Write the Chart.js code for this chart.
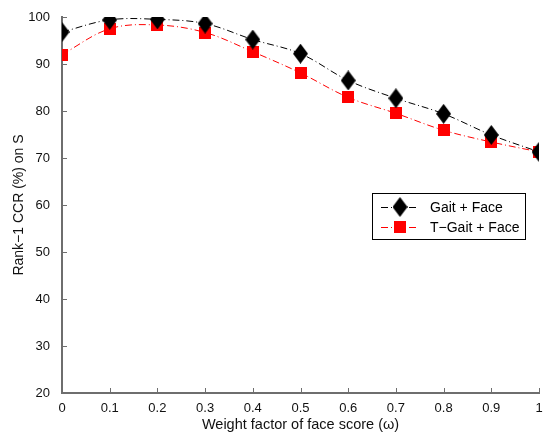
<!DOCTYPE html>
<html>
<head>
<meta charset="utf-8">
<script src="https://cdn.jsdelivr.net/npm/chart.js@4.4.1/dist/chart.umd.min.js"></script>
<style>
  html, body { margin: 0; padding: 0; background: #fff; }
  #wrap { width: 544px; height: 435px; }
</style>
</head>
<body>
<div id="wrap"><canvas id="myChart" width="544" height="435"></canvas></div>
<script>
const weights = [0, 0.1, 0.2, 0.3, 0.4, 0.5, 0.6, 0.7, 0.8, 0.9, 1];
const gaitFace = [96.8, 99.4, 99.5, 98.6, 95.2, 92.2, 86.5, 82.7, 79.4, 74.9, 71.3];
const tGaitFace = [92.0, 97.5, 98.3, 96.7, 92.6, 88.1, 82.9, 79.5, 75.9, 73.4, 71.3];
const seriesNames = ['Gait + Face', 'T\u2212Gait + Face'];
const yTicks = [20, 30, 40, 50, 60, 70, 80, 90, 100];

const FONT = 'Liberation Sans, Arial, Helvetica, sans-serif';

function makeDiamond(w, h, color) {
  const c = document.createElement('canvas');
  c.width = w; c.height = h;
  const g = c.getContext('2d');
  g.fillStyle = color;
  g.beginPath();
  g.moveTo(w / 2, 0);
  g.lineTo(w, h / 2);
  g.lineTo(w / 2, h);
  g.lineTo(0, h / 2);
  g.closePath();
  g.fill();
  return c;
}

function makeSquare(s, color) {
  const c = document.createElement('canvas');
  c.width = s; c.height = s;
  const g = c.getContext('2d');
  g.fillStyle = color;
  g.fillRect(0, 0, s, s);
  return c;
}

const diamond = makeDiamond(15, 20, '#000');
const square = makeSquare(12, '#ff0000');

const toPoints = (ys) => weights.map((x, i) => ({ x, y: ys[i] }));

// inward tick marks, MATLAB-style
const innerTicks = {
  id: 'innerTicks',
  afterDraw(chart) {
    const { ctx, chartArea, scales } = chart;
    ctx.save();
    ctx.strokeStyle = '#6e6e6e';
    ctx.lineWidth = 1;
    ctx.beginPath();
    weights.forEach((w) => {
      const px = Math.round(scales.x.getPixelForValue(w)) + 0.5;
      ctx.moveTo(px, chartArea.bottom);
      ctx.lineTo(px, chartArea.bottom - 5);
    });
    yTicks.forEach((v) => {
      const py = Math.round(scales.y.getPixelForValue(v)) + 0.5;
      ctx.moveTo(chartArea.left, py);
      ctx.lineTo(chartArea.left + 5, py);
    });
    ctx.stroke();
    ctx.restore();
  }
};

// boxed legend like MATLAB
const boxLegend = {
  id: 'boxLegend',
  afterDraw(chart) {
    const { ctx } = chart;
    const bx = 372, by = 193, bw = 153, bh = 46;
    ctx.save();
    ctx.fillStyle = '#fff';
    ctx.fillRect(bx, by, bw, bh);
    ctx.strokeStyle = '#000';
    ctx.lineWidth = 1;
    ctx.strokeRect(bx + 0.5, by + 0.5, bw, bh);

    const rows = [
      { y: 207, color: '#000', img: diamond },
      { y: 227, color: '#ff0000', img: square }
    ];
    rows.forEach((r, i) => {
      ctx.strokeStyle = r.color;
      ctx.setLineDash([7, 3, 1, 3]);
      ctx.beginPath();
      ctx.moveTo(381, r.y + 0.5);
      ctx.lineTo(419, r.y + 0.5);
      ctx.stroke();
      ctx.setLineDash([]);
      ctx.drawImage(r.img, 400 - r.img.width / 2, r.y - r.img.height / 2);
      ctx.fillStyle = '#000';
      ctx.font = '14px ' + FONT;
      ctx.textBaseline = 'middle';
      ctx.textAlign = 'left';
      ctx.fillText(seriesNames[i], 430, r.y + 1);
    });
    ctx.restore();
  }
};

const ctx = document.getElementById('myChart').getContext('2d');

new Chart(ctx, {
  type: 'line',
  data: {
    datasets: [
      {
        label: seriesNames[0],
        data: toPoints(gaitFace),
        borderColor: '#000',
        borderWidth: 1,
        borderDash: [7, 3, 1, 3],
        tension: 0.35,
        pointStyle: diamond,
        fill: false
      },
      {
        label: seriesNames[1],
        data: toPoints(tGaitFace),
        borderColor: '#ff0000',
        borderWidth: 1,
        borderDash: [7, 3, 1, 3],
        tension: 0.35,
        pointStyle: square,
        fill: false
      }
    ]
  },
  options: {
    responsive: false,
    animation: false,
    layout: {
      padding: { top: 17, right: 4, bottom: 0, left: 0 }
    },
    plugins: {
      legend: { display: false },
      tooltip: { enabled: false }
    },
    scales: {
      x: {
        type: 'linear',
        min: 0,
        max: 1,
        grid: { display: false },
        border: { display: true, color: '#6e6e6e', width: 2 },
        afterFit: (scale) => {
          scale.height = 42;
          scale.paddingLeft = 0;
          scale.paddingRight = 0;
        },
        ticks: {
          stepSize: 0.1,
          color: '#111',
          padding: 0,
          maxRotation: 0,
          font: { family: FONT, size: 13 },
          callback: (v) => String(Math.round(v * 10) / 10)
        },
        title: {
          display: true,
          text: 'Weight factor of face score (\u03c9)',
          color: '#111',
          padding: { top: 0, bottom: 1 },
          font: { family: FONT, size: 14.5 }
        }
      },
      y: {
        min: 20,
        max: 100,
        grid: { display: false },
        border: { display: true, color: '#6e6e6e', width: 2 },
        afterFit: (scale) => { scale.width = 62; },
        ticks: {
          stepSize: 10,
          color: '#111',
          padding: 4,
          font: { family: FONT, size: 13 }
        },
        title: {
          display: true,
          text: 'Rank\u22121 CCR (%) on S',
          color: '#111',
          padding: { top: 11, bottom: 0 },
          font: { family: FONT, size: 14 }
        }
      }
    }
  },
  plugins: [innerTicks, boxLegend]
});
</script>
</body>
</html>
